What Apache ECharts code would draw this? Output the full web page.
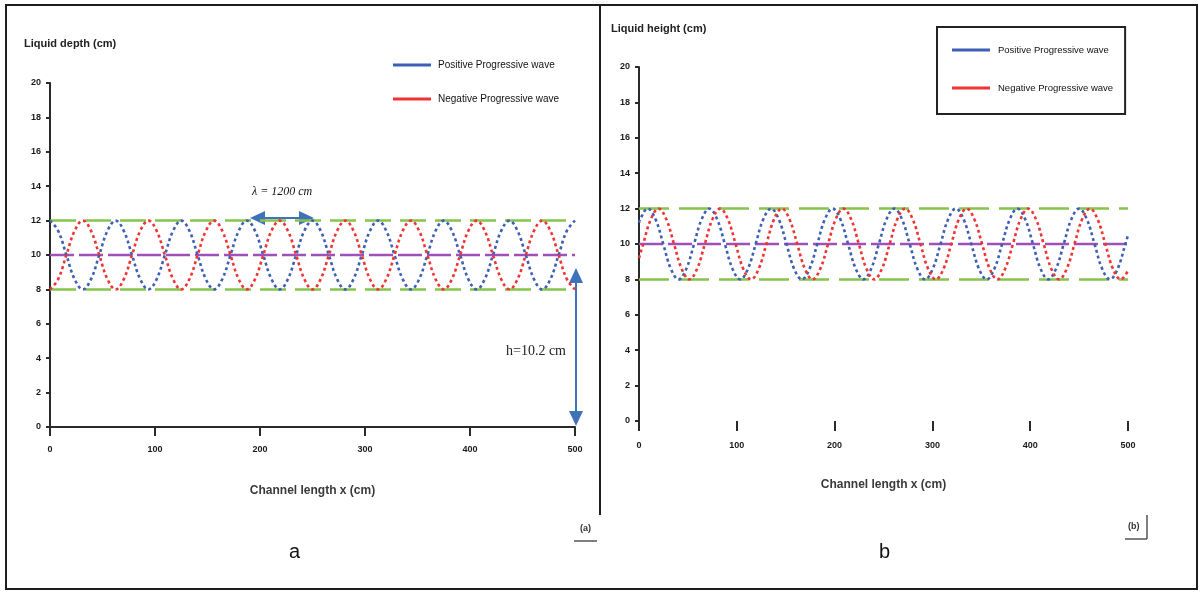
<!DOCTYPE html>
<html>
<head>
<meta charset="utf-8">
<script src="https://cdn.jsdelivr.net/npm/echarts@6/dist/echarts.min.js"></script>
<style>
html,body{margin:0;padding:0;background:#fff;}
#chart{width:1204px;height:594px;}
</style>
</head>
<body>
<div id="chart"></div>
<script>
// ---------- data ----------
var seriesNames = ['Positive Progressive wave', 'Negative Progressive wave'];
var xTicks = [0, 100, 200, 300, 400, 500];
var yTicks = [0, 2, 4, 6, 8, 10, 12, 14, 16, 18, 20];

// panel a : wave read at eighth-period points
var xA = [0, 7.8, 15.6, 23.4, 31.3, 39.1, 46.9, 54.7,
          62.5, 70.3, 78.1, 85.9, 93.8, 101.6, 109.4, 117.2,
          125, 132.8, 140.6, 148.4, 156.3, 164.1, 171.9, 179.7,
          187.5, 195.3, 203.1, 210.9, 218.8, 226.6, 234.4, 242.2,
          250, 257.8, 265.6, 273.4, 281.3, 289.1, 296.9, 304.7,
          312.5, 320.3, 328.1, 335.9, 343.8, 351.6, 359.4, 367.2,
          375, 382.8, 390.6, 398.4, 406.3, 414.1, 421.9, 429.7,
          437.5, 445.3, 453.1, 460.9, 468.8, 476.6, 484.4, 492.2, 500];
var posA = [12, 11.4, 10, 8.6, 8, 8.6, 10, 11.4,
            12, 11.4, 10, 8.6, 8, 8.6, 10, 11.4,
            12, 11.4, 10, 8.6, 8, 8.6, 10, 11.4,
            12, 11.4, 10, 8.6, 8, 8.6, 10, 11.4,
            12, 11.4, 10, 8.6, 8, 8.6, 10, 11.4,
            12, 11.4, 10, 8.6, 8, 8.6, 10, 11.4,
            12, 11.4, 10, 8.6, 8, 8.6, 10, 11.4,
            12, 11.4, 10, 8.6, 8, 8.6, 10, 11.4, 12];
var negA = [8, 8.6, 10, 11.4, 12, 11.4, 10, 8.6,
            8, 8.6, 10, 11.4, 12, 11.4, 10, 8.6,
            8, 8.6, 10, 11.4, 12, 11.4, 10, 8.6,
            8, 8.6, 10, 11.4, 12, 11.4, 10, 8.6,
            8, 8.6, 10, 11.4, 12, 11.4, 10, 8.6,
            8, 8.6, 10, 11.4, 12, 11.4, 10, 8.6,
            8, 8.6, 10, 11.4, 12, 11.4, 10, 8.6,
            8, 8.6, 10, 11.4, 12, 11.4, 10, 8.6, 8];

// panel b
var xPosB = [0, 1.1,
             9, 16.9, 24.8, 32.6, 40.5, 48.4, 56.3, 64.1,
             72, 79.9, 87.8, 95.6, 103.5, 111.4, 119.3, 127.1,
             135, 142.9, 150.8, 158.6, 166.5, 174.4, 182.3, 190.1,
             198, 205.9, 213.8, 221.6, 229.5, 237.4, 245.3, 253.1,
             261, 268.9, 276.8, 284.6, 292.5, 300.4, 308.3, 316.1,
             324, 331.9, 339.8, 347.6, 355.5, 363.4, 371.3, 379.1,
             387, 394.9, 402.8, 410.6, 418.5, 426.4, 434.3, 442.1,
             450, 457.9, 465.8, 473.6, 481.5, 489.4, 497.3, 500];
var posB = [11.2, 11.4,
            12, 11.4, 10, 8.6, 8, 8.6, 10, 11.4,
            12, 11.4, 10, 8.6, 8, 8.6, 10, 11.4,
            12, 11.4, 10, 8.6, 8, 8.6, 10, 11.4,
            12, 11.4, 10, 8.6, 8, 8.6, 10, 11.4,
            12, 11.4, 10, 8.6, 8, 8.6, 10, 11.4,
            12, 11.4, 10, 8.6, 8, 8.6, 10, 11.4,
            12, 11.4, 10, 8.6, 8, 8.6, 10, 11.4,
            12, 11.4, 10, 8.6, 8, 8.6, 10, 10.5];
var xNegB = [0, 4.3, 12.1,
             20, 27.9, 35.8, 43.6, 51.5, 59.4, 67.3, 75.1,
             83, 90.9, 98.8, 106.6, 114.5, 122.4, 130.3, 138.1,
             146, 153.9, 161.8, 169.6, 177.5, 185.4, 193.3, 201.1,
             209, 216.9, 224.8, 232.6, 240.5, 248.4, 256.3, 264.1,
             272, 279.9, 287.8, 295.6, 303.5, 311.4, 319.3, 327.1,
             335, 342.9, 350.8, 358.6, 366.5, 374.4, 382.3, 390.1,
             398, 405.9, 413.8, 421.6, 429.5, 437.4, 445.3, 453.1,
             461, 468.9, 476.8, 484.6, 492.5, 500];
var negB = [9.2, 10, 11.4,
            12, 11.4, 10, 8.6, 8, 8.6, 10, 11.4,
            12, 11.4, 10, 8.6, 8, 8.6, 10, 11.4,
            12, 11.4, 10, 8.6, 8, 8.6, 10, 11.4,
            12, 11.4, 10, 8.6, 8, 8.6, 10, 11.4,
            12, 11.4, 10, 8.6, 8, 8.6, 10, 11.4,
            12, 11.4, 10, 8.6, 8, 8.6, 10, 11.4,
            12, 11.4, 10, 8.6, 8, 8.6, 10, 11.4,
            12, 11.4, 10, 8.6, 8, 8.5];

var levelRange = [0, 500];
var upperLevel = 12;
var meanLevel = 10;
var lowerLevel = 8;

// ---------- helpers ----------
function pairs(xs, ys) { return xs.map(function (x, i) { return [x, ys[i]]; }); }
function flat(v) { return levelRange.map(function (x) { return [x, v]; }); }

var BLUE = '#3d5fb4', RED = '#ef3434', GREEN = '#86c44c', PURPLE = '#a050b8', ARROW = '#3f72b8';

function waveSeries(name, data, color, idx) {
  return { name: name, type: 'line', xAxisIndex: idx, yAxisIndex: idx, data: data, smooth: 0.4,
    showSymbol: false, silent: true, color: color,
    lineStyle: { color: color, width: 2.6, type: [3, 3] } };
}
function levelSeries(v, color, dash, idx) {
  return { type: 'line', xAxisIndex: idx, yAxisIndex: idx, data: flat(v), showSymbol: false, silent: true,
    lineStyle: { color: color, width: 2.5, type: dash }, z: 1 };
}

var labelStyle = { fontFamily: 'Liberation Sans', fontSize: 9, fontWeight: 'bold', color: '#1a1a1a' };

function xAxisCfg(idx, showLine) {
  return { type: 'value', gridIndex: idx, min: 0, max: 500, interval: 100,
    axisLine: { show: showLine, lineStyle: { color: '#2a2a2a', width: 2 } },
    axisTick: { show: true, length: showLine ? 9 : 10, lineStyle: { color: '#2a2a2a', width: 2 } },
    axisLabel: Object.assign({ margin: showLine ? 18 : 20, formatter: function (v) { return xTicks.indexOf(v) >= 0 ? String(v) : ''; } }, labelStyle),
    splitLine: { show: false },
    name: 'Channel length x (cm)', nameLocation: 'middle', nameGap: 58,
    nameTextStyle: { fontFamily: 'Liberation Sans', fontSize: 12, fontWeight: 'bold', color: '#3a3a3a' } };
}
function yAxisCfg(idx) {
  return { type: 'value', gridIndex: idx, min: 0, max: 20, interval: 2,
    axisLine: { show: true, lineStyle: { color: '#2a2a2a', width: 2 } },
    axisTick: { show: true, length: 4, lineStyle: { color: '#2a2a2a', width: 2 } },
    axisLabel: Object.assign({ margin: 9, formatter: function (v) { return yTicks.indexOf(v) >= 0 ? String(v) : ''; } }, labelStyle),
    splitLine: { show: false } };
}

var chart = echarts.init(document.getElementById('chart'), null, { renderer: 'canvas' });

var option = {
  backgroundColor: '#ffffff',
  animation: false,
  grid: [
    { left: 50, top: 83, width: 525, height: 344 },
    { left: 639, top: 67, width: 489, height: 354 }
  ],
  xAxis: [xAxisCfg(0, true), xAxisCfg(1, false)],
  yAxis: [yAxisCfg(0), yAxisCfg(1)],
  legend: [
    { data: seriesNames, orient: 'vertical', left: 388, top: 55, itemWidth: 38, itemHeight: 3, icon: 'rect',
      itemGap: 24, selectedMode: false,
      textStyle: { fontFamily: 'Liberation Sans', fontSize: 10, color: '#111', padding: [0, 0, 0, 2] } },
    { data: seriesNames, orient: 'vertical', left: 937, top: 27, itemWidth: 38, itemHeight: 3, icon: 'rect',
      itemGap: 28, selectedMode: false, padding: [18, 12, 21, 15],
      borderColor: '#222', borderWidth: 2,
      textStyle: { fontFamily: 'Liberation Sans', fontSize: 9.5, color: '#111', padding: [0, 0, 0, 3] } }
  ],
  series: [
    levelSeries(upperLevel, GREEN, [26, 9], 0),
    levelSeries(lowerLevel, GREEN, [26, 9], 0),
    levelSeries(meanLevel, PURPLE, [24, 5], 0),
    waveSeries(seriesNames[0], pairs(xA, posA), BLUE, 0),
    waveSeries(seriesNames[1], pairs(xA, negA), RED, 0),
    levelSeries(upperLevel, GREEN, [30, 10], 1),
    levelSeries(lowerLevel, GREEN, [30, 10], 1),
    levelSeries(meanLevel, PURPLE, [24, 5], 1),
    waveSeries(seriesNames[0], pairs(xPosB, posB), BLUE, 1),
    waveSeries(seriesNames[1], pairs(xNegB, negB), RED, 1)
  ],
  graphic: [
    // outer frame & divider
    { type: 'rect', shape: { x: 6, y: 5, width: 1191, height: 584 }, style: { fill: 'none', stroke: '#1e1e1e', lineWidth: 2 }, silent: true },
    { type: 'line', shape: { x1: 600, y1: 5, x2: 600, y2: 515 }, style: { stroke: '#1e1e1e', lineWidth: 2 }, silent: true },
    // y-axis titles
    { type: 'text', left: 24, top: 38, style: { text: 'Liquid depth (cm)', font: 'bold 11px "Liberation Sans"', fill: '#222' } },
    { type: 'text', left: 611, top: 23, style: { text: 'Liquid height (cm)', font: 'bold 11px "Liberation Sans"', fill: '#222' } },
    // wavelength annotation
    { type: 'text', left: 252, top: 186, style: { text: 'λ = 1200 cm', font: 'italic 12px "Liberation Serif"', fill: '#111' } },
    { type: 'line', shape: { x1: 262, y1: 218, x2: 301, y2: 218 }, style: { stroke: ARROW, lineWidth: 2 } },
    { type: 'polygon', shape: { points: [[250, 218], [265, 211], [265, 225]] }, style: { fill: ARROW } },
    { type: 'polygon', shape: { points: [[314, 218], [299, 211], [299, 225]] }, style: { fill: ARROW } },
    // depth annotation
    { type: 'line', shape: { x1: 576, y1: 280, x2: 576, y2: 413 }, style: { stroke: ARROW, lineWidth: 2 } },
    { type: 'polygon', shape: { points: [[576, 268], [569, 283], [583, 283]] }, style: { fill: ARROW } },
    { type: 'polygon', shape: { points: [[576, 426], [569, 411], [583, 411]] }, style: { fill: ARROW } },
    { type: 'text', left: 506, top: 344, style: { text: 'h=10.2 cm', font: '14px "Liberation Serif"', fill: '#222' } },
    // panel letters
    { type: 'text', left: 289, top: 542, style: { text: 'a', font: '20px "Liberation Sans"', fill: '#111' } },
    { type: 'text', left: 879, top: 542, style: { text: 'b', font: '20px "Liberation Sans"', fill: '#111' } },
    // small corner marks
    { type: 'text', left: 580, top: 524, style: { text: '(a)', font: 'bold 9px "Liberation Sans"', fill: '#333' } },
    { type: 'line', shape: { x1: 574, y1: 541, x2: 597, y2: 541 }, style: { stroke: '#555', lineWidth: 1.5 } },
    { type: 'text', left: 1128, top: 522, style: { text: '(b)', font: 'bold 9px "Liberation Sans"', fill: '#333' } },
    { type: 'line', shape: { x1: 1147, y1: 515, x2: 1147, y2: 539 }, style: { stroke: '#555', lineWidth: 1.5 } },
    { type: 'line', shape: { x1: 1125, y1: 539, x2: 1147, y2: 539 }, style: { stroke: '#555', lineWidth: 1.5 } }
  ]
};
chart.setOption(option);
</script>
</body>
</html>
